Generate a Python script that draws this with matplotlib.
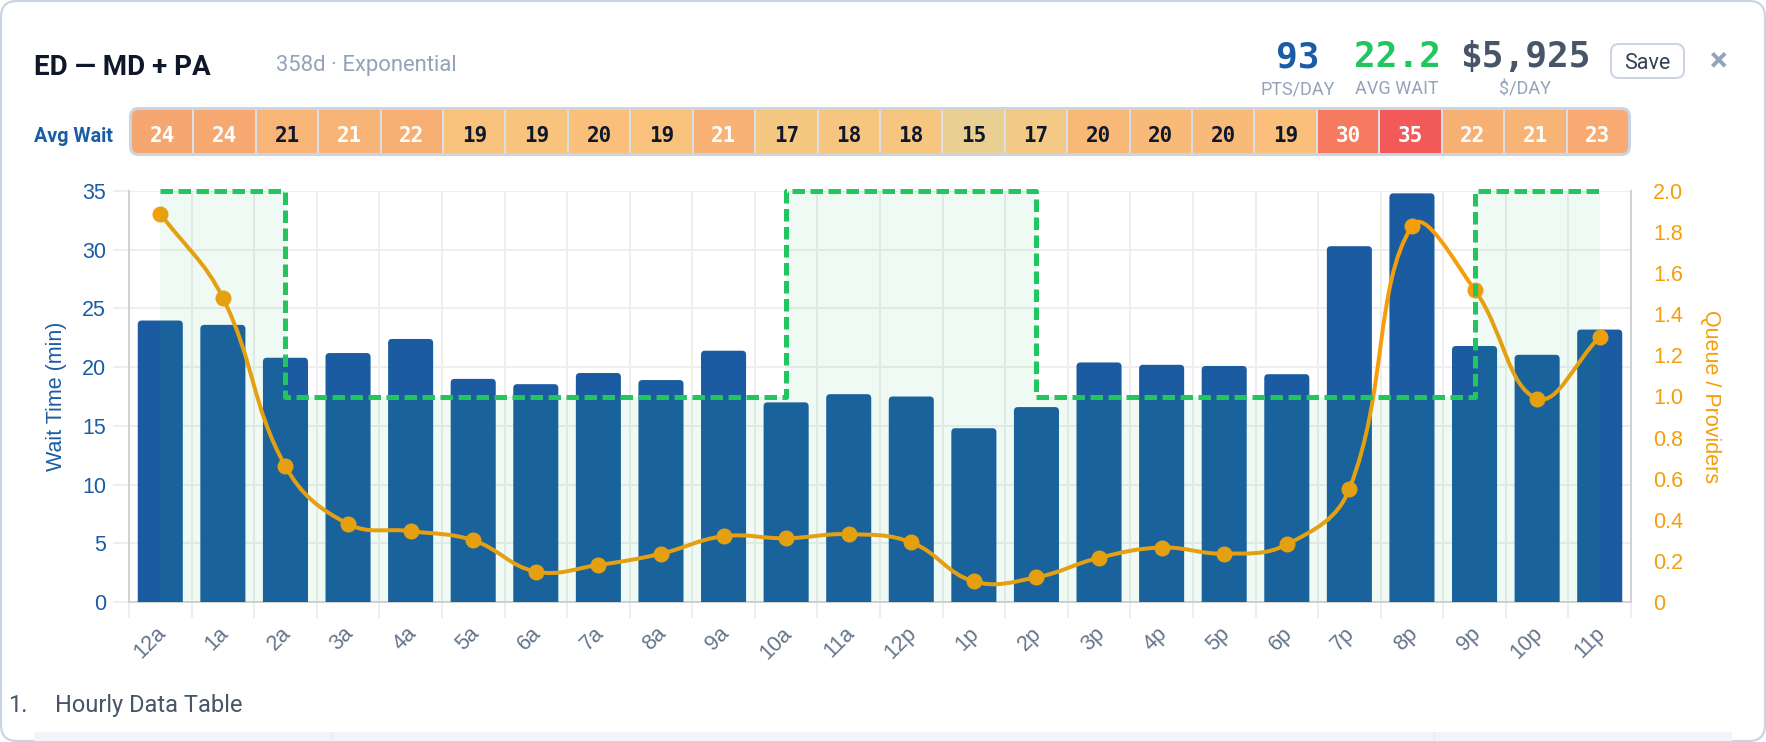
#!/usr/bin/env python3
"""Hourly ED wait time card: bars, queue ratio line, staffing step and heat strip."""

import matplotlib
matplotlib.use('Agg')
import matplotlib.pyplot as plt
import numpy as np
from matplotlib.colors import LinearSegmentedColormap, Normalize
from matplotlib.patches import FancyBboxPatch, PathPatch
from matplotlib.path import Path
from matplotlib.transforms import ScaledTranslation

W, H = 1766, 742

hours = ['12a', '1a', '2a', '3a', '4a', '5a', '6a', '7a', '8a', '9a', '10a', '11a',
         '12p', '1p', '2p', '3p', '4p', '5p', '6p', '7p', '8p', '9p', '10p', '11p']
wait_time = [23.97, 23.6, 20.8, 21.2, 22.4, 19.0, 18.55, 19.5, 18.9, 21.4, 17.0, 17.7,
             17.5, 14.8, 16.6, 20.4, 20.2, 20.1, 19.4, 30.3, 34.8, 21.8, 21.05, 23.2]
queue_ratio = [1.89, 1.48, 0.66, 0.38, 0.345, 0.30, 0.148, 0.18, 0.235, 0.32, 0.31, 0.33,
               0.29, 0.10, 0.12, 0.215, 0.265, 0.235, 0.28, 0.55, 1.83, 1.52, 0.99, 1.29]
staffing = [2, 2, 1, 1, 1, 1, 1, 1, 1, 1, 2, 2, 2, 2, 1, 1, 1, 1, 1, 1, 1, 2, 2, 2]
wait_ticks = [0, 5, 10, 15, 20, 25, 30, 35]
queue_ticks = [0, 0.2, 0.4, 0.6, 0.8, 1.0, 1.2, 1.4, 1.6, 1.8, 2.0]
queue_tick_labels = ['0', '0.2', '0.4', '0.6', '0.8', '1.0', '1.2', '1.4', '1.6', '1.8', '2.0']

BLUE = '#1a5ca6'
ORANGE = '#f59e0b'
GREEN = '#22c55e'
SLATE = '#94a3b8'
BORDER = '#cbd5e1'
GRID = '#eeeeee'
AXIS = '#d2d2d2'
HEAT_CMAP = LinearSegmentedColormap.from_list('heat', [
    (0.0, '#e9cf92'), (0.1, '#f5c882'), (0.2, '#f9c27c'), (0.3, '#f8b476'),
    (0.45, '#f6a670'), (0.75, '#f67c60'), (1.0, '#f25959')])

px = 0.72  # points per pixel at dpi 100
plt.rcParams['font.family'] = ['Roboto', 'DejaVu Sans']
plt.rcParams['lines.scale_dashes'] = False


def add_axes_px(fig, left, top, right, bottom, **kwargs):
    return fig.add_axes([left / W, 1 - bottom / H, (right - left) / W, (bottom - top) / H], **kwargs)


def label(fig, x, y, text, **kwargs):
    return fig.text(x / W, 1 - y / H, text, **kwargs)


def rounded_bar_path(x, height, width, rx, ry):
    l, r = x - width / 2, x + width / 2
    verts = [(l, 0), (l, height - ry), (l, height), (l + rx, height), (r - rx, height),
             (r, height), (r, height - ry), (r, 0), (l, 0)]
    codes = [Path.MOVETO, Path.LINETO, Path.CURVE3, Path.CURVE3, Path.LINETO,
             Path.CURVE3, Path.CURVE3, Path.LINETO, Path.CLOSEPOLY]
    return Path(verts, codes)


def spline_path(xs, ys, sx, sy, tension=0.4):
    # same bezier smoothing as a chart.js line, worked out in pixel space
    pts = np.column_stack([np.asarray(xs) * sx, np.asarray(ys) * sy])
    n = len(pts)
    before, after = [], []
    for i in range(n):
        prev_pt, cur, next_pt = pts[max(i - 1, 0)], pts[i], pts[min(i + 1, n - 1)]
        d01 = np.hypot(*(cur - prev_pt))
        d12 = np.hypot(*(next_pt - cur))
        total = d01 + d12
        before.append(cur - tension * d01 / total * (next_pt - prev_pt))
        after.append(cur + tension * d12 / total * (next_pt - prev_pt))
    verts, codes = [pts[0]], [Path.MOVETO]
    for i in range(n - 1):
        verts += [after[i], before[i + 1], pts[i + 1]]
        codes += [Path.CURVE4] * 3
    return Path(np.array(verts) / [sx, sy], codes)


fig = plt.figure(figsize=(W / 100, H / 100), dpi=100, facecolor='white')

# card background, table header and frame pieces in pixel coordinates
bg = add_axes_px(fig, 0, 0, W, H, zorder=-1)
bg.set_xlim(0, W)
bg.set_ylim(H, 0)
bg.axis('off')
bg.add_patch(FancyBboxPatch((1, 1), W - 2, H - 2, boxstyle='round,pad=0,rounding_size=16',
                            fc='white', ec=BORDER, lw=2.2 * px))
bg.fill_between([34, 1732], 732, 740.5, color='#f1f5f9', lw=0)
bg.plot([331, 331], [732, 740], color='#e9edf3', lw=1)
bg.plot([1434, 1434], [732, 740], color='#e9edf3', lw=1)
bg.add_patch(FancyBboxPatch((1611, 44), 73, 34, boxstyle='round,pad=0,rounding_size=8',
                            fc='white', ec=BORDER, lw=2 * px))

# header
label(fig, 34, 75, 'ED — MD + PA', fontsize=20, fontweight='bold', color='#0f172a')
label(fig, 276, 71, '358d · Exponential', fontsize=15.8, color=SLATE)
for cx, value, caption, color in [(1298, '93', 'PTS/DAY', BLUE),
                                  (1397, '22.2', 'AVG WAIT', GREEN),
                                  (1525, '$5,925', '$/DAY', '#475569')]:
    label(fig, cx, 67, value, fontsize=26, fontweight='bold', color=color, ha='center',
          family='DejaVu Sans Mono')
    label(fig, cx, 94, caption, fontsize=13, color=SLATE, ha='center')
label(fig, 1647, 69, 'Save', fontsize=15.5, color='#334155', ha='center')
label(fig, 1719, 70, '×', fontsize=24, fontweight='bold', color=SLATE, ha='center')
label(fig, 8, 712, '1.', fontsize=17, color='#475569')
label(fig, 55, 712, 'Hourly Data Table', fontsize=17, color='#475569')

# heat strip, cell edges run past the frame so only the vertical gaps show
label(fig, 34, 142, 'Avg Wait', fontsize=14.2, fontweight='bold', color=BLUE)
strip = add_axes_px(fig, 131, 109, 1629, 154)
strip.set_xlim(-0.5, 23.5)
strip.set_ylim(0, 1)
strip.axis('off')
mesh = strip.pcolormesh(np.arange(25) - 0.5, [-0.2, 1.2], np.array([wait_time]), cmap=HEAT_CMAP,
                        norm=Normalize(15, 35), edgecolors='#d9dee7', linewidth=1.1)
for i, value in enumerate(wait_time):
    strip.text(i, 0.41, f'{value:.0f}', ha='center', va='center', fontsize=15, fontweight='bold',
               family='DejaVu Sans Mono', color='white' if value > 21 else '#0f172a')
frame = FancyBboxPatch((130.5, 108.5), 1499, 46, boxstyle='round,pad=0,rounding_size=8',
                       fc='none', ec=BORDER, lw=3 * px, transform=bg.transData, zorder=5)
fig.add_artist(frame)
mesh.set_clip_path(frame)

# main chart
ax = add_axes_px(fig, 129, 191, 1631, 602)
x = np.arange(len(hours))
ax.set_xlim(-0.5, 23.5)
ax.set_ylim(0, 35)
sx, sy = (1631 - 129) / 24, 411 / 35
for xi, value in zip(x, wait_time):
    ax.add_patch(PathPatch(rounded_bar_path(xi, value, 0.72, 4 / sx, 4 / sy), fc='#15589f',
                           ec='none', alpha=0.98, zorder=3))

ax.set_yticks(wait_ticks)
ax.set_xticks(x, hours, rotation=45, ha='right', va='top', rotation_mode='anchor',
              fontsize=15.5, color='#64748b', family='Liberation Sans')
ax.set_xticks(np.arange(25) - 0.5, minor=True)
ax.tick_params(axis='x', which='major', length=0, pad=15)
ax.tick_params(axis='x', which='minor', length=16 * px, width=2 * px, color=GRID)
ax.tick_params(axis='y', length=16 * px, width=2 * px, color=GRID, pad=5, labelsize=15.5, labelcolor=BLUE)
for tick_label in ax.get_yticklabels():
    tick_label.set_family('Liberation Sans')
shift = ScaledTranslation(-5 / 100, 0, fig.dpi_scale_trans)
for tick_label in ax.get_xticklabels():
    tick_label.set_transform(tick_label.get_transform() + shift)
ax.grid(True, axis='y', which='major', color=GRID, lw=2 * px, zorder=0)
ax.grid(True, axis='x', which='minor', color=GRID, lw=2 * px, zorder=0)
ax.grid(False, axis='x', which='major')
ax.set_axisbelow(True)
ax.spines['top'].set_visible(False)
for side in ['left', 'right', 'bottom']:
    ax.spines[side].set_color(AXIS)
    ax.spines[side].set_linewidth(2 * px)
ax.set_ylabel('Wait Time (min)', fontsize=15.5, color=BLUE, family='Liberation Sans')
ax.yaxis.set_label_coords((67 - 129) / 1502, 0.5)

ax2 = ax.twinx()
ax2.set_ylim(0, 2)
ax2.set_yticks(queue_ticks, queue_tick_labels, family='Liberation Sans')
ax2.tick_params(axis='y', length=0, pad=22 * px, labelsize=15.5, labelcolor=ORANGE)
for spine in ax2.spines.values():
    spine.set_visible(False)
ax2.set_ylabel('Queue / Providers', fontsize=15.5, color=ORANGE, rotation=-90, va='center',
               family='Liberation Sans')
ax2.yaxis.set_label_coords((1710 - 129) / 1502, 0.5)

curve = spline_path(x, queue_ratio, sx, 411 / 2)
ax2.add_patch(PathPatch(curve, fc='none', ec=ORANGE, lw=4 * px, capstyle='round', zorder=3))
ax2.plot(x, queue_ratio, ls='none', marker='o', ms=16 * px, mfc=ORANGE, mec=ORANGE, mew=0,
         zorder=4, clip_on=False)

# staffing step sits over everything else
ax2.fill_between(x, 0, staffing, step='post', color=GREEN, alpha=0.075, lw=0, zorder=5)
ax2.step(x, staffing, where='post', color=GREEN, lw=5 * px, ls=(0, (12.5 * px, 5.5 * px)),
         zorder=6, clip_on=False)

fig.savefig('out.png', dpi=100)
